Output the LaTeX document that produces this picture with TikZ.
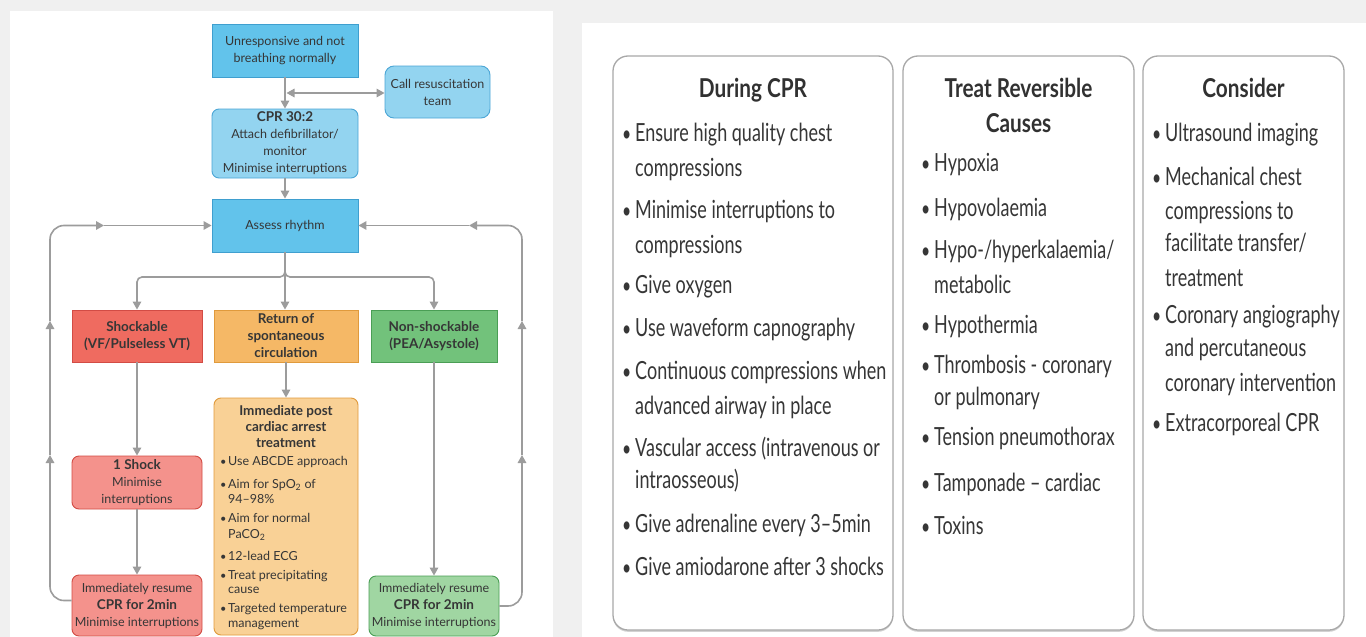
\documentclass[tikz,border=0pt]{standalone}
\usepackage{fontspec}
\setmainfont{Lato}
\newfontfamily\condfont[FakeStretch=0.72]{Lato}
\newfontfamily\titlefont[FakeStretch=0.8]{Lato}
\usetikzlibrary{arrows.meta,shadows}
\definecolor{bggrey}{HTML}{F0F0F0}
\definecolor{txt}{HTML}{363636}
\definecolor{bblue}{HTML}{62C3EB}
\definecolor{bbluedk}{HTML}{3F9FCF}
\definecolor{lblue}{HTML}{93D4F0}
\definecolor{lbluedk}{HTML}{4CA6D6}
\definecolor{redb}{HTML}{EF6B60}
\definecolor{reddk}{HTML}{D24C45}
\definecolor{lred}{HTML}{F4928C}
\definecolor{orb}{HTML}{F5B866}
\definecolor{ordk}{HTML}{E09A3C}
\definecolor{lor}{HTML}{F9D196}
\definecolor{grb}{HTML}{72C27B}
\definecolor{grdk}{HTML}{4A9E55}
\definecolor{lgr}{HTML}{A0D6A2}
\definecolor{arrgrey}{HTML}{9C9C9C}
\definecolor{panelgrey}{HTML}{A8A8A8}
\newcommand\hb[1]{{\bfseries\fontsize{13.5}{17}\selectfont #1}}
\newcommand\rline[4]{\node[rtxt] (#1) at (#2,#3) {#4};}
\newcommand\rbul[4]{\node[rdot] (#1b) at (#2,#3) {\textbullet}; \node[rtxt] (#1) at (#2+13,#3) {#4};}
\newcommand\pline[4]{\node[ptxt] (#1) at (#2,#3) {#4};}
\newcommand\pbul[4]{\node[pdot] (#1b) at (#2,#3) {\textbullet}; \node[ptxt] (#1) at (#2+8,#3) {#4};}
\tikzset{
  fbox/.style={draw, line width=0.9pt, inner sep=0pt, text=txt, align=center,
    font=\fontsize{12.5}{17}\selectfont},
  sqbox/.style={fbox},
  rdbox/.style={fbox, rounded corners=7pt},
  arr/.style={draw=arrgrey, line width=1.6pt, -{Triangle[length=8pt,width=8.5pt]}},
  arrtwo/.style={draw=arrgrey, line width=1.6pt, {Triangle[length=8pt,width=8.5pt]}-{Triangle[length=8pt,width=8.5pt]}},
  line/.style={draw=arrgrey, line width=1.6pt},
  panel/.style={draw=panelgrey, line width=1.3pt, rounded corners=15pt, fill=white,
    drop shadow={opacity=0.35, shadow xshift=0pt, shadow yshift=-1.8pt}},
  rtxt/.style={anchor=base west, inner sep=0pt, text=txt, font=\condfont\fontsize{25}{30}\selectfont},
  rdot/.style={anchor=base west, inner sep=0pt, text=txt, font=\condfont\fontsize{22}{30}\selectfont},
  rtitle/.style={anchor=base, inner sep=0pt, text=txt!90!black, font=\titlefont\bfseries\fontsize{26}{30}\selectfont},
  ptxt/.style={anchor=base west, inner sep=0pt, text=txt, font=\fontsize{12.5}{15}\selectfont},
  pdot/.style={anchor=base west, inner sep=0pt, text=txt, font=\fontsize{11}{15}\selectfont},
}
\begin{document}
\begin{tikzpicture}[x=1pt,y=-1pt]
\useasboundingbox (0,0) rectangle (1366,637);
\fill[bggrey] (0,0) rectangle (1366,637);
\fill[white] (10,11) rectangle (553,637);
\fill[white] (582,23) rectangle (1366,637);

% ---------- left flowchart ----------
\node[sqbox, fill=bblue, draw=bbluedk, minimum width=146pt, minimum height=53pt] (unresp) at (285,50.5) {Unresponsive and not\\breathing normally};
\node[rdbox, fill=lblue, draw=lbluedk, rounded corners=9pt, minimum width=105pt, minimum height=52pt] (call) at (437.5,92) {Call resuscitation\\team};
\node[rdbox, fill=lblue, draw=lbluedk, minimum width=146pt, minimum height=69pt] (cpr) at (285,143.5) {\hb{CPR 30:2}\\Attach defibrillator/\\monitor\\Minimise interruptions};
\node[sqbox, fill=bblue, draw=bbluedk, minimum width=146pt, minimum height=53pt] (assess) at (285,225.5) {Assess rhythm};
\node[sqbox, fill=redb, draw=reddk, minimum width=130pt, minimum height=52pt] (shock) at (137,336) {\hb{Shockable}\\\hb{(VF/Pulseless VT)}};
\node[sqbox, fill=orb, draw=ordk, minimum width=144pt, minimum height=52pt] (rosc) at (286,336) {\hb{Return of}\\\hb{spontaneous}\\\hb{circulation}};
\node[sqbox, fill=grb, draw=grdk, minimum width=126pt, minimum height=52pt] (nonshock) at (434,336) {\hb{Non-shockable}\\\hb{(PEA/Asystole)}};
\node[rdbox, fill=lred, draw=reddk, minimum width=130pt, minimum height=53pt] (oneshock) at (137,482.5) {\hb{1 Shock}\\Minimise\\interruptions};
\node[rdbox, fill=lor, draw=ordk, minimum width=144pt, minimum height=237pt] (post) at (286,516.5) {};
\node[rdbox, fill=lred, draw=reddk, minimum width=130pt, minimum height=61pt] (lresume) at (137,605.5) {Immediately resume\\\hb{CPR for 2min}\\Minimise interruptions};
\node[rdbox, fill=lgr, draw=grdk, minimum width=130pt, minimum height=60pt] (rresume) at (434,606) {Immediately resume\\\hb{CPR for 2min}\\Minimise interruptions};

% post box text
\node[inner sep=0pt, text=txt, align=center, font=\bfseries\fontsize{13.5}{16}\selectfont] (posttitle) at (286,427) {Immediate post\\cardiac arrest\\treatment};
\pbul{pa}{220}{465.5}{Use ABCDE approach}
\pbul{pb}{220}{488.5}{Aim for SpO\textsubscript{2} of}
\pline{pbb}{228}{503.5}{94–98\%}
\pbul{pc}{220}{522.5}{Aim for normal}
\pline{pcc}{228}{538}{PaCO\textsubscript{2}}
\pbul{pd}{220}{560.5}{12-lead ECG}
\pbul{pe}{220}{579.5}{Treat precipitating}
\pline{pee}{228}{593.5}{cause}
\pbul{pf}{220}{612.5}{Targeted temperature}
\pline{pff}{228}{627.5}{management}

% connectors
\coordinate (dj) at (286.5,93);
\draw[arr] (unresp) -- (cpr);
\draw[arrtwo] (dj) -- (call.west |- dj);
\draw[arr] (cpr) -- (assess);
\coordinate (br) at (285,277);
\draw[line] (assess.south) -- (br);
\draw[arr, rounded corners=5pt] (assess.south) -- (br) -| (shock.north);
\draw[arr, rounded corners=5pt] (assess.south) -- (br) -| (nonshock.north);
\draw[arr] (br) -- (br |- rosc.north);
\draw[arr] (shock) -- (oneshock);
\draw[arr] (oneshock) -- (lresume);
\draw[arr] (rosc) -- (post);
\draw[arr] (nonshock) -- (rresume);

\coordinate (l1) at (50,455);
\coordinate (l2) at (50,321);
\coordinate (l3) at (104,225.5);
\draw[arr, rounded corners=14pt] ([yshift=5pt]lresume.west) -| (l1);
\draw[arr] (l1) -- (l2);
\draw[arr, rounded corners=14pt] (l2) |- (l3);
\draw[arr] (l3) -- (assess.west);

\coordinate (r1) at (522,455);
\coordinate (r2) at (522,321);
\coordinate (r3) at (469,225.5);
\draw[arr, rounded corners=14pt] (rresume.east) -| (r1);
\draw[arr] (r1) -- (r2);
\draw[arr, rounded corners=14pt] (r2) |- (r3);
\draw[arr] (r3) -- (assess.east);

% ---------- right panels ----------
\node[panel, minimum width=280pt, minimum height=574pt] (p1) at (753,343) {};
\node[panel, minimum width=231pt, minimum height=574pt] (p2) at (1018.5,343) {};
\node[panel, minimum width=201pt, minimum height=574pt] (p3) at (1243.5,343) {};

\node[rtitle] (t1) at (753,97) {During CPR};
\rbul{a1}{622}{141}{Ensure high quality chest}
\rline{a1b2}{635}{176}{compressions}
\rbul{a2}{622}{218}{Minimise interruptions to}
\rline{a2b2}{635}{253}{compressions}
\rbul{a3}{622}{293}{Give oxygen}
\rbul{a4}{622}{336}{Use waveform capnography}
\rbul{a5}{622}{379}{Continuous compressions when}
\rline{a5b2}{635}{414}{advanced airway in place}
\rbul{a6}{622}{456}{Vascular access (intravenous or}
\rline{a6b2}{635}{488}{intraosseous)}
\rbul{a7}{622}{532}{Give adrenaline every 3–5min}
\rbul{a8}{622}{575}{Give amiodarone after 3 shocks}

\node[rtitle] (t2a) at (1018.5,97) {Treat Reversible};
\node[rtitle] (t2b) at (1018.5,132) {Causes};
\rbul{b1}{921}{171}{Hypoxia}
\rbul{b2}{921}{216}{Hypovolaemia}
\rbul{b3}{921}{258}{Hypo-/hyperkalaemia/}
\rline{b3b2}{934}{293}{metabolic}
\rbul{b4}{921}{333}{Hypothermia}
\rbul{b5}{921}{373}{Thrombosis - coronary}
\rline{b5b2}{934}{405}{or pulmonary}
\rbul{b6}{921}{445}{Tension pneumothorax}
\rbul{b7}{921}{491}{Tamponade – cardiac}
\rbul{b8}{921}{534}{Toxins}

\node[rtitle] (t3) at (1243.5,97) {Consider};
\rbul{c1}{1152}{141}{Ultrasound imaging}
\rbul{c2}{1152}{185}{Mechanical chest}
\rline{c2b2}{1165}{219}{compressions to}
\rline{c2b3}{1165}{251}{facilitate transfer/}
\rline{c2b4}{1165}{286}{treatment}
\rbul{c3}{1152}{323}{Coronary angiography}
\rline{c3b2}{1165}{356}{and percutaneous}
\rline{c3b3}{1165}{391}{coronary intervention}
\rbul{c4}{1152}{431}{Extracorporeal CPR}
\end{tikzpicture}
\end{document}
